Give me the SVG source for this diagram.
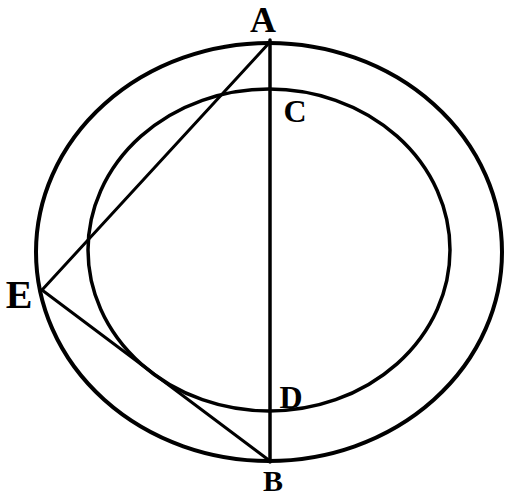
<svg xmlns="http://www.w3.org/2000/svg" width="510" height="499" viewBox="0 0 510 499">
<style>
.c{fill:none;stroke:#000;stroke-width:4}
.l{fill:none;stroke:#000;stroke-width:3;stroke-linecap:round}
.t{font-family:"Liberation Serif",serif;font-weight:bold;fill:#000;text-anchor:middle}
</style>
<rect width="510" height="499" fill="#fff"/>
<g id="outer"><ellipse class="c" cx="269" cy="252" rx="233" ry="209"/></g>
<g id="inner"><ellipse class="c" cx="269" cy="250" rx="181" ry="161" style="stroke-width:3.5"/></g>
<g id="lines">
<line class="l" x1="270" y1="40" x2="270" y2="462" style="stroke-width:3.5"/>
<line class="l" x1="42" y1="290" x2="270" y2="42"/>
<line class="l" x1="42" y1="290" x2="270" y2="461"/>
</g>
<g id="labels">
<text class="t" x="263" y="32" font-size="36">A</text>
<text class="t" x="295" y="122" font-size="32">C</text>
<text class="t" x="19" y="308" font-size="40">E</text>
<text class="t" x="291" y="408" font-size="32">D</text>
<text class="t" x="273" y="491" font-size="30">B</text>
</g>
</svg>
